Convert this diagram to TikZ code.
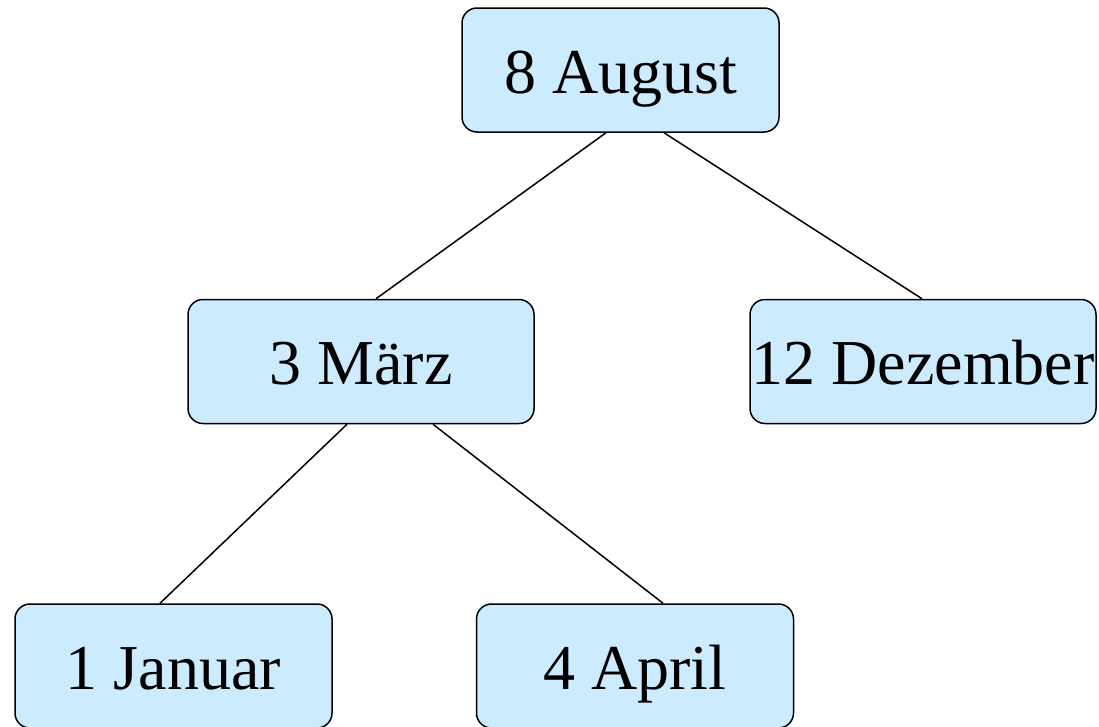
\documentclass[tikz,border=0pt]{standalone}
\usepackage{fontspec}
\setmainfont{Liberation Serif}
\usetikzlibrary{calc}
\definecolor{boxfill}{RGB}{204,235,255}
\tikzset{
  treenode/.style={draw=black, line width=1.5pt, fill=boxfill, rounded corners=15pt,
    inner sep=0pt, minimum height=124pt, text height=46pt, text depth=0pt,
    font=\fontsize{64}{70}\selectfont},
  narrowbox/.style={treenode, minimum width=317pt},
  widebox/.style={treenode, minimum width=346pt},
  edge/.style={draw=black, line width=1.5pt}
}
\begin{document}
\begin{tikzpicture}[x=1pt, y=-1pt]
  \useasboundingbox (0,0) rectangle (1099,726);
  % tree nodes
  \node[narrowbox] (aug) at (620.5,70) {8 August};
  \node[widebox] (mar) at (361,361.5) {3 März};
  \node[widebox] (dez) at (923,361.5) {12 Dezember};
  \node[narrowbox] (jan) at (173.5,666) {1 Januar};
  \node[narrowbox] (apr) at (635,666) {4 April};
  % connectors
  \draw[edge] ([xshift=-14.5pt]aug.south) -- ([xshift=15pt]mar.north);
  \draw[edge] ([xshift=43.5pt]aug.south) -- ([xshift=-1pt]dez.north);
  \draw[edge] ([xshift=-14pt]mar.south) -- ([xshift=-13.5pt]jan.north);
  \draw[edge] ([xshift=72pt]mar.south) -- ([xshift=28pt]apr.north);
\end{tikzpicture}
\end{document}
